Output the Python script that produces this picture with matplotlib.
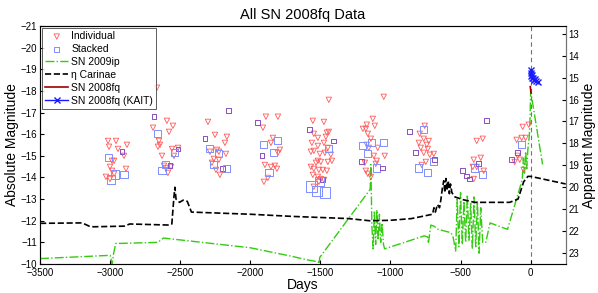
import numpy as np
import matplotlib
matplotlib.use("Agg")
import matplotlib.pyplot as plt

plt.rcParams['font.family'] = ['Liberation Sans', 'DejaVu Sans']

# individual detections (days, absolute mag)
ind_days = [-3015, -2958, -2880, -3008, -2944, -2901, -2987, -2972, -3001, -2987, -2887, -2972, -3030, -3001,
            -2666, -2595, -2552, -2694, -2580, -2652, -2645, -2659, -2559, -2516, -2630, -2545, -2616, -2602, -2566, -2588,
            -2302, -2252, -2167, -2181, -2288, -2238, -2224, -2174, -2274, -2260, -2224, -2245, -2217,
            -1889, -1803, -1910, -1839, -1853, -1789, -1803, -1896, -1853, -1825, -1810, -1875, -1903,
            -1440, -1554, -1475, -1547, -1518, -1454, -1440, -1461, -1561, -1518, -1475, -1447, -1568, -1547,
            -1504, -1468, -1426, -1518, -1497, -1532, -1447, -1418, -1568, -1547, -1511, -1483, -1454, -1554,
            -1518, -1497, -1475, -1511, -1547,
            -1048, -1126, -1169, -1112, -1197, -1176, -1162, -1140, -1169, -1155, -1091, -1119, -1041, -1098,
            -1183, -1105, -1176, -1162, -1140,
            -756, -791, -763, -798, -727, -741, -784, -734, -691, -763, -720, -748, -777,
            -385, -342, -406, -356, -413, -385, -335, -406,
            -57, -14, -100, -64, -36, -93, -114, -78, -50]
ind_mag = [-15.69, -15.69, -15.51, -15.42, -15.32, -15.00, -14.77, -14.77, -14.49, -14.31, -14.40, -14.17, -14.03, -13.93,
           -18.15, -16.62, -16.39, -16.30, -16.11, -15.69, -15.51, -15.42, -15.32, -15.37, -15.00, -15.00, -14.54, -14.44, -14.49, -14.21,
           -16.57, -15.97, -15.88, -15.60, -15.19, -15.28, -15.19, -15.09, -14.68, -14.86, -14.82, -14.35, -14.12,
           -16.81, -16.81, -16.30, -15.83, -15.60, -15.28, -15.14, -14.58, -14.49, -14.54, -14.40, -13.98, -13.80,
           -17.59, -16.62, -16.57, -16.02, -15.83, -16.07, -16.11, -15.88, -15.60, -15.46, -15.60, -15.37, -15.19, -15.23,
           -15.09, -15.14, -15.05, -14.77, -14.72, -14.68, -14.72, -14.77, -14.49, -14.40, -14.35, -14.35, -14.31, -14.12,
           -14.03, -13.93, -13.89, -13.80, -13.57,
           -17.73, -16.71, -16.44, -16.39, -16.25, -16.25, -16.02, -15.79, -15.51, -15.37, -15.37, -15.00, -15.00, -14.77,
           -14.68, -14.63, -14.31, -14.17, -14.03,
           -16.39, -16.02, -15.79, -15.60, -15.69, -15.51, -15.37, -15.32, -15.09, -15.14, -15.05, -14.72, -14.58,
           -15.69, -15.79, -14.82, -14.91, -14.49, -14.49, -14.31, -13.93,
           -16.34, -16.44, -15.74, -15.83, -15.83, -15.00, -14.72, -14.82, -14.35]

# stacked detections (days, absolute mag, number of nights stacked)
stk_days = [-3015, -2915, -2901, -2965, -2994,
            -2687, -2659, -2516, -2538, -2602, -2573, -2630,
            -2153, -2324, -2288, -2224, -2260, -2196, -2167,
            -1946, -1903, -1803, -1832, -1917, -1867,
            -1575, -1440, -1404, -1483, -1561, -1504, -1525, -1468,
            -1133, -1048, -1197, -1162, -1205, -1098, -1055,
            -862, -763, -820, -691, -684, -798, -734,
            -314, -399, -342, -485, -456, -435, -371,
            -64, -93, -135]
stk_mag = [-14.91, -15.19, -14.12, -14.12, -13.89,
           -16.81, -16.02, -15.32, -15.14, -14.58, -14.54, -14.31,
           -17.08, -15.79, -15.32, -15.09, -14.58, -14.40, -14.40,
           -16.53, -15.51, -15.69, -15.14, -15.00, -14.21,
           -16.20, -15.32, -15.69, -13.89, -13.57, -13.80, -13.38, -13.29,
           -15.60, -15.60, -15.46, -15.09, -14.72, -14.44, -14.44,
           -16.11, -16.20, -15.14, -14.72, -14.82, -14.44, -14.21,
           -16.62, -14.44, -14.12, -14.31, -14.07, -13.93, -14.63,
           -15.51, -15.14, -14.82]
stk_nights = [2, 1, 2, 3, 3,
              1, 2, 1, 2, 2, 1, 2,
              1, 1, 2, 2, 2, 1, 2,
              1, 2, 2, 2, 1, 2,
              1, 2, 1, 1, 4, 3, 4, 4,
              2, 2, 2, 2, 1, 2, 1,
              1, 2, 1, 2, 1, 2, 2,
              1, 2, 2, 1, 1, 1, 1,
              2, 1, 1]

# eta Carinae light curve
eta_days = [-3500, -3200, -3150, -3120, -2900, -2860, -2580, -2560, -2545, -2538, -2530, -2505, -2480, -2450,
            -2420, -2000, -1700, -1300, -1150, -1000, -850, -700, -690, -680, -665, -650, -640, -630, -620,
            -612, -604, -596, -588, -580, -572, -562, -540, -480, -400, -300, -150, -90, -50, -20, 0, 250]
eta_mag = [-11.88, -11.9, -11.75, -11.72, -11.75, -11.85, -11.8, -11.85, -13.1, -13.55, -13.0, -12.85, -12.95, -12.9,
           -12.4, -12.3, -12.2, -12.1, -12.0, -12.02, -12.1, -12.3, -12.6, -12.4, -12.75, -12.6, -13.0, -13.5, -13.85,
           -13.3, -13.95, -13.4, -13.85, -13.25, -13.7, -13.3, -13.1, -12.97, -12.85, -12.85, -12.85, -13.0, -13.8, -14.05, -14.05, -13.7]

# SN 2009ip light curve
ip_days = [-3500, -3000, -2985, -2975, -2960, -2940, -2660, -2620, -2000, -1700, -1600, -1515, -1510, -1505,
           -1145, -1140, -1133, -1124, -1115, -1106, -1097, -1088, -1079, -1070,
           -1060, -1050, -1042, -900, -760, -735, -730, -712, -690, -660, -570, -555,
           -535, -524, -512, -500, -488, -476, -464, -452, -440, -428, -416, -404, -392, -380, -368, -356,
           -342, -320, -290, -165,
           -60, -52, -44, -36, -28, -20, -10, -5, 0, 85]
ip_mag = [-10.25, -10.4, -10.0, -10.5, -10.95, -10.95, -11.0, -11.2, -10.75, -10.35, -10.2, -10.1, -10.0, -10.3,
          -13.45, -14.6, -11.8, -10.7, -12.4, -10.9, -12.5, -11.1, -12.3, -11.0,
          -11.9, -10.9, -10.7, -11.0, -11.3, -11.25, -10.95, -11.8, -11.75, -11.6, -11.45, -11.3,
          -10.6, -13.0, -10.8, -13.3, -10.9, -12.9, -11.0, -13.2, -11.1, -12.8, -10.7, -13.1, -10.8, -12.9, -10.5, -12.6,
          -11.0, -11.0, -11.9, -11.6,
          -13.9, -14.9, -14.2, -15.2, -14.4, -15.3, -15.9, -16.6, -18.0, -14.6]

# SN 2008fq
fq_days = [-3, 0, 3]
fq_mag = [-18.2, -18.05, -17.9]

# SN 2008fq (KAIT)
kait_days = [0, 3, 5, 8, 12, 18, 25, 30, 40, 50]
kait_mag = [-18.95, -18.85, -18.7, -18.6, -18.75, -18.6, -18.5, -18.55, -18.45, -18.4]

fig = plt.figure(figsize=(5.98, 2.93), dpi=100)
ax = fig.add_axes([0.067, 0.099, 0.879, 0.812])

ax.axvline(0, color='0.45', linestyle='--', linewidth=0.8, dashes=(4, 3), zorder=1)

h_ind = ax.scatter(ind_days, ind_mag, marker='v', s=15, facecolors='none', edgecolors='#ff5a5a',
                   linewidths=0.6, label='Individual', zorder=3)

stk_size = [{1: 12, 2: 26, 3: 40, 4: 60}[n] for n in stk_nights]
stk_col = ['#8a4fc0' if n == 1 else '#7f8fff' for n in stk_nights]
ax.scatter(stk_days, stk_mag, marker='s', s=stk_size, facecolors='none', edgecolors=stk_col,
           linewidths=0.7, zorder=3)
h_stk = ax.scatter([], [], marker='s', s=12, facecolors='none', edgecolors='#7f8fff', linewidths=0.7, label='Stacked')

h_ip, = ax.plot(ip_days, ip_mag, color='#33cc11', linestyle='-.', linewidth=1.0, label='SN 2009ip', zorder=2)
h_eta, = ax.plot(eta_days, eta_mag, color='black', linestyle='--', linewidth=1.2, label='η Carinae', zorder=2)
h_fq, = ax.plot(fq_days, fq_mag, color='#a00000', linestyle='-', linewidth=1.2, label='SN 2008fq', zorder=4)
h_kait, = ax.plot(kait_days, kait_mag, color='#1a1aff', marker='x', markersize=4, linewidth=1.0,
                  markeredgewidth=1.0, label='SN 2008fq (KAIT)', zorder=5)

ax.set_xlim(-3500, 250)
ax.set_ylim(-10, -21)
ax.set_xticks(np.arange(-3500, 1, 500))
ax.set_yticks(np.arange(-21, -9, 1))
ax.tick_params(direction='in', length=3, labelsize=7, pad=2, colors='black')
ax.tick_params(axis='x', pad=3)
for sp in ax.spines.values():
    sp.set_color('0.45')
    sp.set_linewidth(0.8)
ax.set_xlabel('Days', fontsize=10, labelpad=0)
ax.set_ylabel('Absolute Magnitude', fontsize=10, labelpad=1)
ax.set_title('All SN 2008fq Data', fontsize=10.5, pad=5)

ax2 = ax.twinx()
ax2.set_ylim(23.52, 12.64)
ax2.set_yticks(np.arange(13, 24, 1))
ax2.tick_params(direction='in', length=3, labelsize=7, pad=2)
ax2.spines['right'].set_color('0.45')
ax2.set_ylabel('Apparent Magnitude', fontsize=10, labelpad=2)

leg = ax.legend(handles=[h_ind, h_stk, h_ip, h_eta, h_fq, h_kait], loc='upper left', fontsize=7.5,
                frameon=True, fancybox=False, borderaxespad=0.2, handlelength=2.2, handletextpad=0.3,
                labelspacing=0.28, borderpad=0.3)
leg.get_frame().set_edgecolor('0.2')
leg.get_frame().set_linewidth(0.7)

fig.savefig('out.png', dpi=100)
